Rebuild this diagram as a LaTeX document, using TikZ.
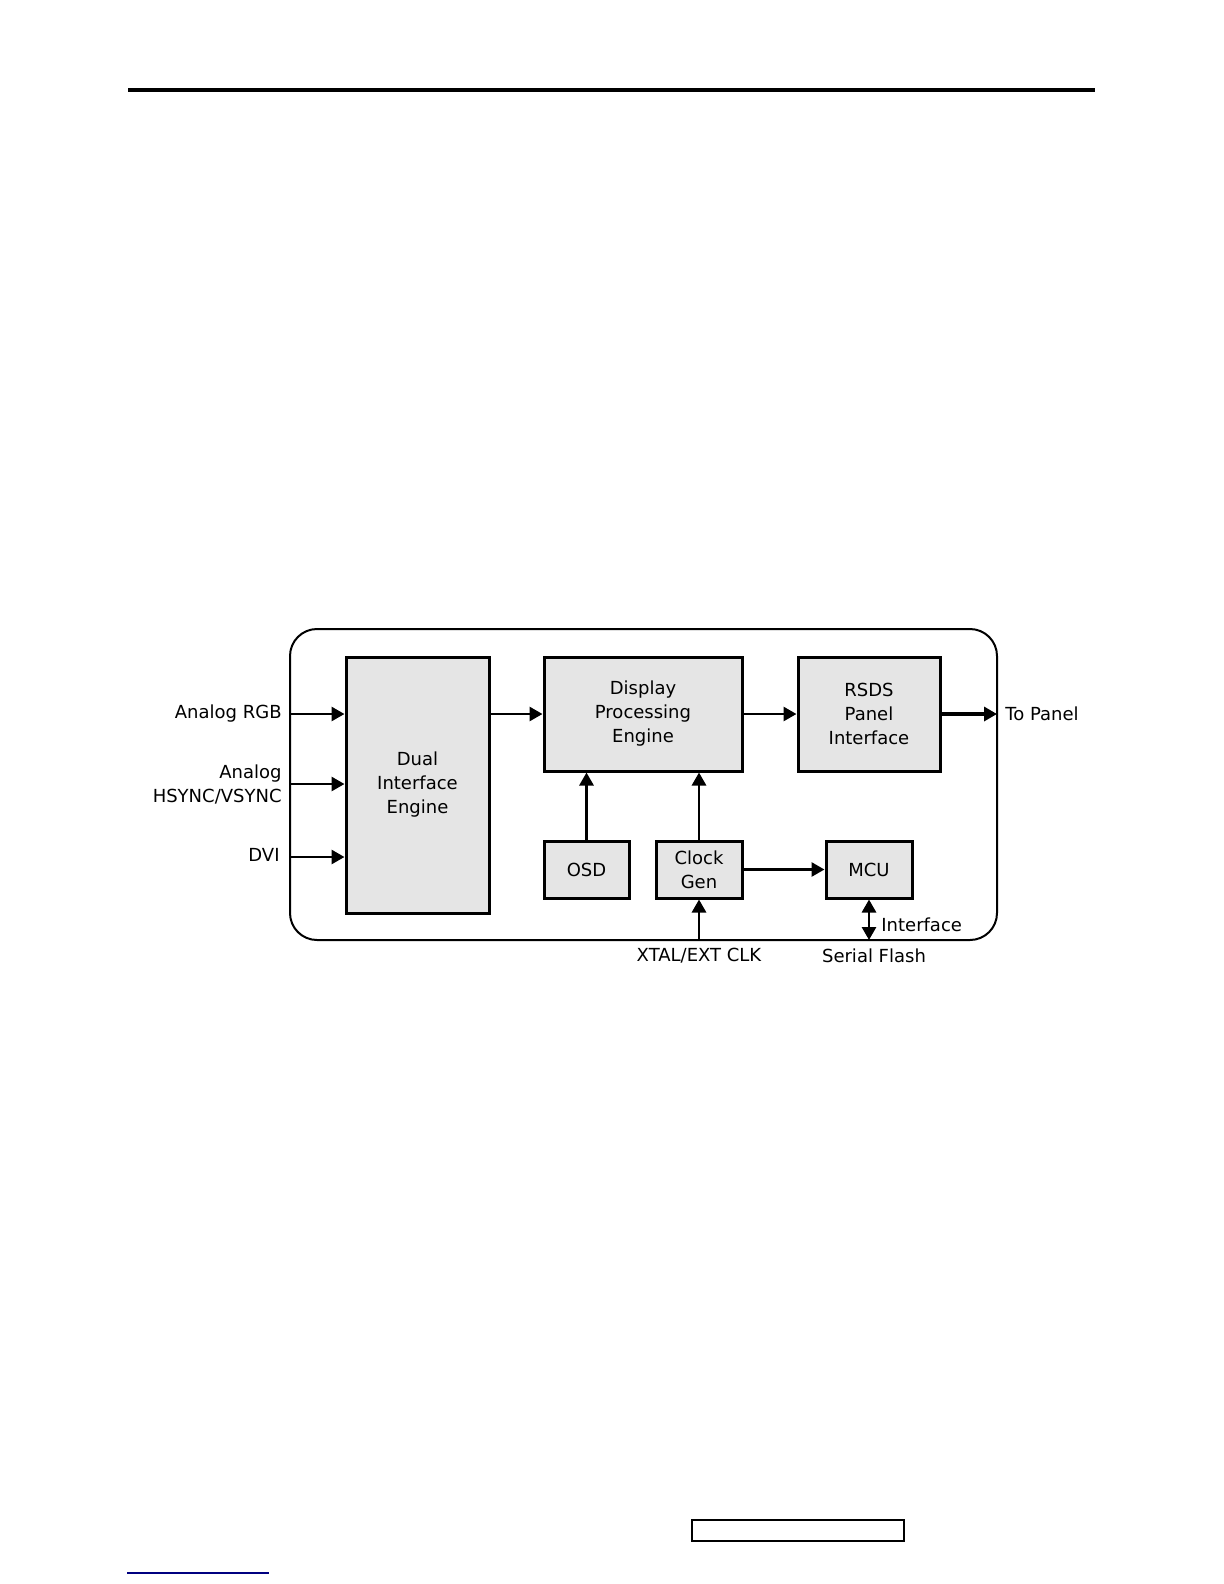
\documentclass[tikz,border=0pt]{standalone}
\usepackage{fontspec}
\setmainfont{DejaVu Sans}
\usetikzlibrary{arrows.meta,positioning}
\begin{document}
\begin{tikzpicture}[x=0.5pt, y=-0.5pt,
    font=\fontsize{9}{12}\selectfont,
    block/.style={draw, line width=1.5pt, fill=black!10, rectangle, align=center, inner sep=0pt},
    link/.style={-{Triangle[length=6.5pt, width=7pt]}, line width=1.4pt},
    label/.style={inner sep=0pt, align=center}]
    \useasboundingbox (0,0) rectangle (1224,1584);

    % Page
    \draw[line width=2pt] (128,90) -- (1095,90);
    \draw[line width=0.6pt] (692,1520) rectangle (904,1541);
    \draw[line width=0.8pt, blue!50!black] (127,1573) -- (269,1573);

    % Chip outline
    \draw[line width=1pt, rounded corners=13.5pt] (290,629) rectangle (997,940);

    % Nodes
    \node[block, minimum width=71.5pt, minimum height=128pt] (dual) at (417.5,785) {Dual\\Interface\\Engine};
    \node[block, minimum width=99pt, minimum height=57pt] (display) at (643,714) {Display\\Processing\\Engine};
    \node[block, minimum width=71pt, minimum height=57pt] (rsds) at (869,714) {RSDS\\Panel\\Interface};
    \node[block, minimum width=42.5pt, minimum height=28.5pt] (osd) at (586.5,869.5) {OSD};
    \node[block, minimum width=43pt, minimum height=28.5pt] (clock) at (699,869.5) {Clock\\Gen};
    \node[block, minimum width=43pt, minimum height=28.5pt] (mcu) at (869,869.5) {MCU};

    % Pins
    \coordinate (rgbin) at (290,714);
    \coordinate (syncin) at (290,784);
    \coordinate (dviin) at (290,857);
    \coordinate (panelout) at (997,714);
    \coordinate (xtalin) at (699,940);
    \coordinate (flashio) at (869,940);

    % Labels
    \node[label, anchor=east] (rgb) at (282,714) {Analog RGB};
    \node[label, anchor=east, align=right] (sync) at (282,784) {Analog\\HSYNC/VSYNC};
    \node[label, anchor=east] (dvi) at (280,855) {DVI};
    \node[label, anchor=west] (panel) at (1005,714) {To Panel};
    \node[label] (xtal) at (699,956) {XTAL/EXT CLK};
    \node[label] (flash) at (874,956) {Serial Flash};
    \node[label, anchor=west] (iface) at (881,925) {Interface};

    % Arrows
    \draw[link] (rgbin) -- (rgbin -| dual.west);
    \draw[link] (syncin) -- (syncin -| dual.west);
    \draw[link] (dviin) -- (dviin -| dual.west);
    \draw[link] (dual.east |- display.west) -- (display.west);
    \draw[link] (display) -- (rsds);
    \draw[link, line width=2.2pt] (rsds.east) -- (panelout);
    \draw[link] (osd) -- (osd |- display.south);
    \draw[link] (clock) -- (clock |- display.south);
    \draw[link] (clock) -- (mcu);
    \draw[link] (xtalin) -- (clock.south);
    \draw[link, {Triangle[length=6.5pt, width=7pt]}-{Triangle[length=6.5pt, width=7pt]}] (mcu.south) -- (flashio);
\end{tikzpicture}
\end{document}
